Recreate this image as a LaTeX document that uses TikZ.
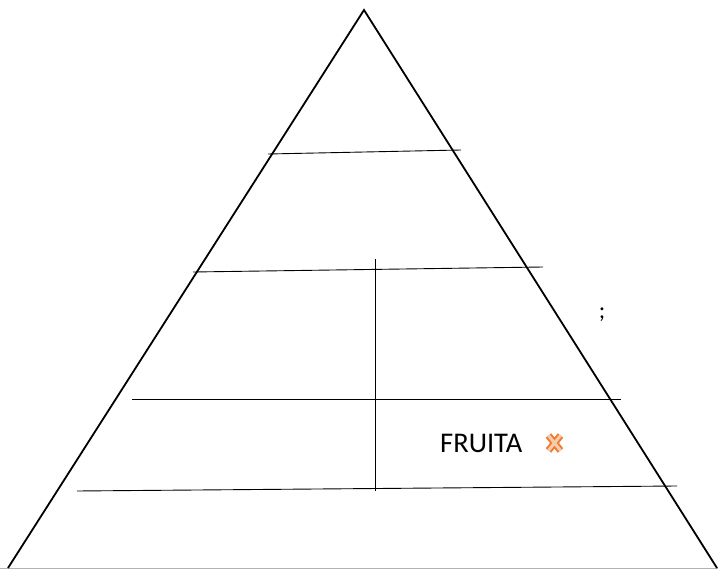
\documentclass[tikz,border=0pt]{standalone}
\usepackage{fontspec}
\setmainfont{Carlito}
\definecolor{xorange}{HTML}{ED7D31}
\definecolor{xlight}{HTML}{F8CBAD}
\begin{document}
\begin{tikzpicture}[x=1pt,y=-1pt,
  edge/.style={line width=1.8pt,black},
  level/.style={line width=0.9pt,black},
  lbl/.style={inner sep=0pt,font=\fontsize{28.5}{32}\selectfont}]
\useasboundingbox (0,0) rectangle (718,569);
\coordinate (apex) at (364,10);
\coordinate (bl) at (8,568);
\coordinate (br) at (717,568);
\draw[gray!60,line width=0.8pt] (0,568) -- (718,568);
\draw[edge,line join=miter] (bl) -- (apex) -- (br);
\coordinate (l1a) at (268,154); \coordinate (l1b) at (461,150);
\coordinate (l2a) at (193,272); \coordinate (l2b) at (543,267);
\coordinate (l3a) at (132,399); \coordinate (l3b) at (621,399);
\coordinate (l4a) at (77,491);  \coordinate (l4b) at (677,486);
\coordinate (va) at (375,259);  \coordinate (vb) at (375,491);
\draw[level] (l1a) -- (l1b);
\draw[level] (l2a) -- (l2b);
\draw[level] (l3a) -- (l3b);
\draw[level] (l4a) -- (l4b);
\draw[level] (va) -- (vb);
\node[lbl,anchor=base west] (fruita) at (440,452) {FRUITA};
\node[lbl,anchor=base,font=\fontsize{24}{26}\selectfont] (semi) at (602,319) {;};
\coordinate (x1) at (548.5,435.5); \coordinate (x2) at (560.5,450.5);
\coordinate (x3) at (560.5,435.5); \coordinate (x4) at (548.5,450.5);
\draw[xorange,line width=7pt] (x1) -- (x2) (x3) -- (x4);
\draw[xlight,line width=3pt] (x1) -- (x2) (x3) -- (x4);
\end{tikzpicture}
\end{document}
